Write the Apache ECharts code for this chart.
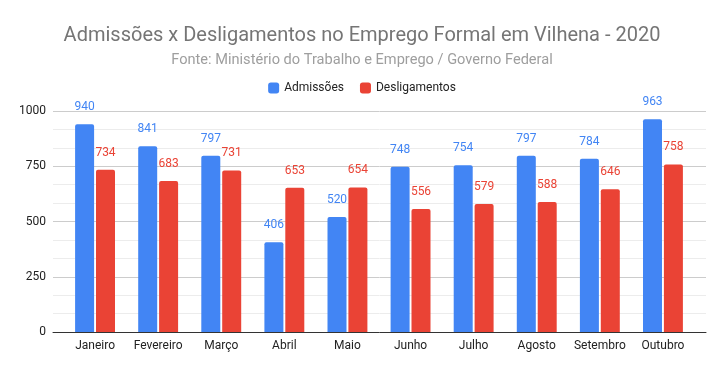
<!DOCTYPE html>
<html><head><meta charset="utf-8">
<script src="https://cdn.jsdelivr.net/npm/echarts@6/dist/echarts.min.js"></script>
<style>html,body{margin:0;padding:0;background:#fff}#c{width:724px;height:371px}</style>
</head><body><div id="c"></div>
<script>
const categories = ['Janeiro','Fevereiro','Março','Abril','Maio','Junho','Julho','Agosto','Setembro','Outubro'];
const admissoes = [940, 841, 797, 406, 520, 748, 754, 797, 784, 963];
const desligamentos = [734, 683, 731, 653, 654, 556, 579, 588, 646, 758];
const yTicks = [0, 250, 500, 750, 1000];

const chart = echarts.init(document.getElementById('c'));
const font = 'Roboto, Arial, sans-serif';
chart.setOption({
  animation: false,
  textStyle: {fontFamily: font},
  title: {
    text: 'Admissões x Desligamentos no Emprego Formal em Vilhena - 2020',
    subtext: 'Fonte: Ministério do Trabalho e Emprego / Governo Federal',
    left: 'center', top: 21, itemGap: 7,
    textStyle: {fontFamily: font, fontSize: 20, fontWeight: 'normal', color: '#757575'},
    subtextStyle: {fontFamily: font, fontSize: 14.6, color: '#9e9e9e'}
  },
  legend: {
    top: 77, left: 'center', itemWidth: 11, itemHeight: 11, itemGap: 16,
    icon: 'roundRect',
    textStyle: {fontFamily: font, fontSize: 12, color: '#222'},
    data: ['Admissões', 'Desligamentos']
  },
  grid: [
    {left: 53, right: 18, top: 111, bottom: 39},
    {left: 63.5, right: 29.5, top: 111, bottom: 39}
  ],
  xAxis: [
    {gridIndex: 0, type: 'value', min: 0, max: 1,
     axisLine: {show: true, lineStyle: {color: '#333', width: 1}}, axisTick: {show: false},
     axisLabel: {show: false}, splitLine: {show: false}},
    {gridIndex: 1, type: 'category', data: categories,
     axisLine: {show: false}, axisTick: {show: false},
     axisLabel: {interval: 0, fontFamily: font, fontSize: 12, color: '#222', margin: 8}}
  ],
  yAxis: [
    {gridIndex: 0, type: 'value', min: yTicks[0], max: yTicks[yTicks.length-1], interval: 250,
     axisLine: {show: false}, axisTick: {show: false},
     axisLabel: {fontFamily: font, fontSize: 12, color: '#222', margin: 7, formatter: v => String(v)},
     splitLine: {lineStyle: {color: '#cccccc', width: 1}},
     minorTick: {show: false, splitNumber: 3},
     minorSplitLine: {show: true, lineStyle: {color: '#ececec', width: 1}}},
    {gridIndex: 1, type: 'value', min: yTicks[0], max: yTicks[yTicks.length-1], interval: 250,
     show: false, splitLine: {show: false}}
  ],
  series: [
    {name: 'Admissões', type: 'bar', xAxisIndex: 1, yAxisIndex: 1, data: admissoes,
     barWidth: 19, barGap: '10%',
     itemStyle: {color: '#4285F4', borderRadius: [2,2,0,0]},
     label: {show: true, position: 'top', distance: 11, color: '#4285F4', fontFamily: font, fontSize: 12}},
    {name: 'Desligamentos', type: 'bar', xAxisIndex: 1, yAxisIndex: 1, data: desligamentos,
     barWidth: 19, barGap: '10%',
     itemStyle: {color: '#EA4335', borderRadius: [2,2,0,0]},
     label: {show: true, position: 'top', distance: 11, color: '#EA4335', fontFamily: font, fontSize: 12}}
  ]
});
</script></body></html>
